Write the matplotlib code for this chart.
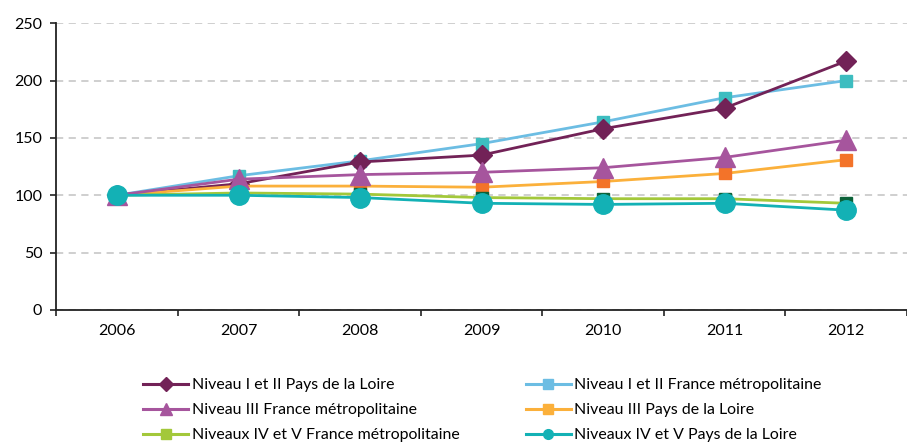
import matplotlib.pyplot as plt
from matplotlib.lines import Line2D

plt.rcParams['font.family'] = ['Lato', 'DejaVu Sans']

# --------------------------
# Données (indice base 100 en 2006)
# --------------------------
annees = ["2006", "2007", "2008", "2009", "2010", "2011", "2012"]

n12_pdl = [100, 110, 129, 135, 158, 176, 217]
n12_fm = [100, 117, 130, 145, 164, 185, 200]
n3_fm = [100, 114, 118, 120, 124, 133, 148]
n3_pdl = [100, 108, 108, 107, 112, 119, 131]
n45_fm = [100, 102, 101, 98, 97, 97, 93]
n45_pdl = [100, 100, 98, 93, 92, 93, 87]

labels = [
    "Niveau I et II Pays de la Loire",
    "Niveau I et II France métropolitaine",
    "Niveau III France métropolitaine",
    "Niveau III Pays de la Loire",
    "Niveaux IV et V France métropolitaine",
    "Niveaux IV et V Pays de la Loire",
]

# (série, couleur ligne, couleur marqueur, marqueur, taille, zorder)
series = [
    (n12_fm, "#6cbde3", "#3dbdc0", "s", 9, 3),
    (n12_pdl, "#722257", "#722257", "D", 10, 4),
    (n3_fm, "#a6559d", "#a6559d", "^", 14, 5),
    (n3_pdl, "#fbb03b", "#f37329", "s", 9, 4),
    (n45_fm, "#a3c83a", "#0b6138", "s", 9, 4),
    (n45_pdl, "#13b1b5", "#13b1b5", "o", 14, 6),
]

fig = plt.figure(figsize=(9.07, 4.46), dpi=100)
ax = fig.add_axes([0.062, 0.305, 0.938, 0.643])

x = list(range(len(annees)))
for vals, lc, mc, m, ms, z in series:
    ax.plot(x, vals, color=lc, linewidth=2, marker=m, markersize=ms,
            markerfacecolor=mc, markeredgecolor=mc, zorder=z)

ax.set_ylim(0, 250)
ax.set_yticks([0, 50, 100, 150, 200, 250])
ax.set_xlim(-0.5, 6.5)
ax.set_xticks(x)
ax.set_xticklabels(annees)
ax.set_xticks([i - 0.5 for i in range(8)], minor=True)
ax.tick_params(axis='x', which='major', length=0, pad=10, labelsize=11.5)
ax.tick_params(axis='x', which='minor', length=4, width=1.2, color="#222222")
ax.tick_params(axis='y', length=4, width=1.2, color="#222222", labelsize=11.5, pad=6)
ax.grid(axis='y', linestyle=(0, (4, 3)), color="#cccccc", linewidth=1.3)
ax.set_axisbelow(True)
for s in ["top", "right"]:
    ax.spines[s].set_visible(False)
ax.spines["left"].set_color("#222222")
ax.spines["bottom"].set_color("#222222")
ax.spines["left"].set_linewidth(1.3)
ax.spines["bottom"].set_linewidth(1.3)

# --------------------------
# Légende
# --------------------------
ordre = [1, 0, 2, 3, 4, 5]
handles = []
for i in ordre:
    vals, lc, mc, m, ms, z = series[i]
    handles.append(Line2D([0], [0], color=lc, linewidth=2.2, marker=m,
                          markersize=7 if m != "^" else 8,
                          markerfacecolor=lc, markeredgecolor=lc))
# disposition 2 colonnes, remplissage par ligne
h_ord = [handles[0], handles[2], handles[4], handles[1], handles[3], handles[5]]
l_ord = [labels[0], labels[2], labels[4], labels[1], labels[3], labels[5]]
fig.legend(h_ord, l_ord, ncol=2, loc="upper left", bbox_to_anchor=(0.151, 0.166),
           frameon=False, fontsize=11.4, handlelength=2.85, handletextpad=0.2,
           columnspacing=4.2, labelspacing=0.68, borderaxespad=0)

fig.savefig("out.png", dpi=100)
